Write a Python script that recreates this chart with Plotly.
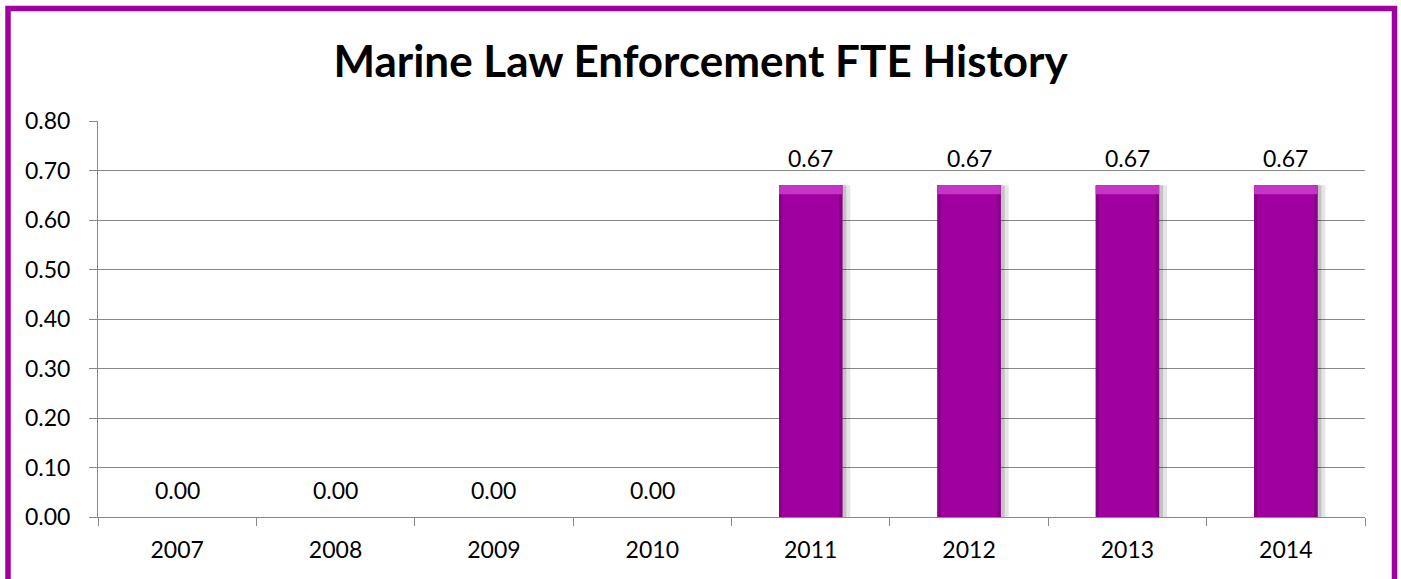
import plotly.graph_objects as go

years = ["2007", "2008", "2009", "2010", "2011", "2012", "2013", "2014"]
fte = [0.00, 0.00, 0.00, 0.00, 0.67, 0.67, 0.67, 0.67]
y_ticks = [0.0, 0.1, 0.2, 0.3, 0.4, 0.5, 0.6, 0.7, 0.8]
title_text = "Marine Law Enforcement FTE History"

PURPLE = "#A000A0"
FONT = "Lato"
BAR_W = 0.4
BEVEL = 0.018

fig = go.Figure()
# soft shadow to the right of each bar
fig.add_trace(go.Bar(
    x=years, y=fte, width=BAR_W, offset=-BAR_W / 2 + 0.05,
    marker=dict(color="rgba(0,0,0,0.10)", line=dict(width=0)),
    hoverinfo="skip",
))
fig.add_trace(go.Bar(
    x=years, y=fte, width=BAR_W, offset=-BAR_W / 2 + 0.025,
    marker=dict(color="rgba(0,0,0,0.15)", line=dict(width=0)),
    hoverinfo="skip",
))
# main bars
fig.add_trace(go.Bar(
    x=years, y=fte, width=BAR_W, offset=-BAR_W / 2,
    marker=dict(color=PURPLE, line=dict(width=0)),
    hoverinfo="skip",
))
# darker side edges
fig.add_trace(go.Bar(
    x=years, y=fte, width=BAR_W * 0.05, offset=-BAR_W / 2,
    marker=dict(color="#860086", line=dict(width=0)),
    hoverinfo="skip",
))
fig.add_trace(go.Bar(
    x=years, y=fte, width=BAR_W * 0.05, offset=BAR_W / 2 - BAR_W * 0.05,
    marker=dict(color="#860086", line=dict(width=0)),
    hoverinfo="skip",
))
# lighter top bevel
fig.add_trace(go.Bar(
    x=years, y=[BEVEL if v > 0 else 0 for v in fte],
    base=[v - BEVEL if v > 0 else 0 for v in fte],
    width=BAR_W, offset=-BAR_W / 2,
    marker=dict(color="#C535C5", line=dict(width=0)),
    hoverinfo="skip",
))

for i, v in enumerate(fte):
    fig.add_annotation(x=i, y=v, text=f"{v:.2f}", showarrow=False,
                       yshift=27, font=dict(family=FONT, size=23, color="#000000"))

W, H = 1401, 579
L, R, T, B = 98, 36, 121, 62
pw, ph = W - L - R, H - T - B

def px2x(p):
    return (p - L) / pw

def py2y(p):
    return (H - B - p) / ph

fig.add_shape(type="rect", xref="paper", yref="paper",
              x0=px2x(8), x1=px2x(1394.5), y0=py2y(640), y1=py2y(8.5),
              line=dict(color=PURPLE, width=5.5), fillcolor="rgba(0,0,0,0)", layer="above")

fig.update_layout(
    width=W, height=H,
    margin=dict(l=L, r=R, t=T, b=B),
    paper_bgcolor="white", plot_bgcolor="white",
    showlegend=False, barmode="overlay",
    title=dict(text=f"<b>{title_text}</b>", x=0.5, xref="container", xanchor="center",
               y=1 - 62 / H, yref="container", yanchor="middle",
               font=dict(family=FONT, size=44, color="#000000")),
    font=dict(family=FONT, size=23, color="#000000"),
    xaxis=dict(type="category", tickson="boundaries", ticks="outside", ticklen=8,
               tickcolor="#888888", showline=True, linecolor="#888888", linewidth=1,
               showgrid=False, tickfont=dict(family=FONT, size=23), tickangle=0,
               range=[-0.5, 7.5], ticklabelstandoff=12),
    yaxis=dict(range=[0, 0.8], tickvals=y_ticks, tickformat=".2f", ticks="outside",
               ticklen=8, tickcolor="#888888", showline=True, linecolor="#888888",
               linewidth=1, showgrid=True, gridcolor="#888888", gridwidth=1,
               zeroline=False, tickfont=dict(family=FONT, size=23),
               ticklabelstandoff=14),
)

fig.write_html("out.html", config={"displayModeBar": False},
               post_script="document.body.style.margin='0';document.body.style.overflow='hidden';")
